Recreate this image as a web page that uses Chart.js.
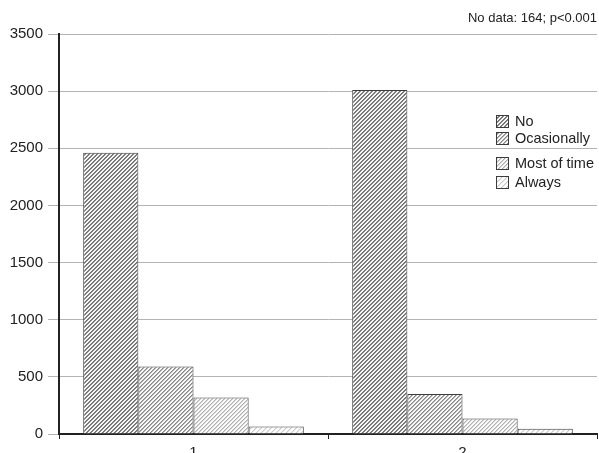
<!DOCTYPE html>
<html>
<head>
<meta charset="utf-8">
<script src="https://cdn.jsdelivr.net/npm/chart.js@4/dist/chart.umd.min.js"></script>
<style>
  html, body { margin: 0; padding: 0; background: #fff; }
  #wrap { width: 599px; height: 453px; position: relative; }
</style>
</head>
<body>
<div id="wrap"><canvas id="c" width="599" height="453"></canvas></div>
<script>
// Groups along the x axis
const categories = ['1', '2'];

// Response series
const seriesNames = ['No', 'Ocasionally', 'Most of time', 'Always'];
const seriesNo = [2460, 3010];
const seriesOcasionally = [590, 350];
const seriesMostOfTime = [320, 135];
const seriesAlways = [65, 45];

// Y axis ticks
const yTicks = [0, 500, 1000, 1500, 2000, 2500, 3000, 3500];

const note = 'No data: 164; p<0.001';

const FONT = '"Liberation Sans", Arial, Helvetica, sans-serif';

// Pixel-exact "/" hatch. shades[j] is the grey used on the diagonal
// x + y = j (mod period); 255 leaves the pixel white.
function hatch(shades) {
  const period = shades.length;
  const c = document.createElement('canvas');
  c.width = period; c.height = period;
  const g = c.getContext('2d');
  const img = g.createImageData(period, period);
  for (let y = 0; y < period; y++) {
    for (let x = 0; x < period; x++) {
      const k = (y * period + x) * 4;
      const v = shades[(x + y) % period];
      img.data[k] = v; img.data[k + 1] = v; img.data[k + 2] = v; img.data[k + 3] = 255;
    }
  }
  g.putImageData(img, 0, 0);
  return g.createPattern(c, 'repeat');
}

const ctx = document.getElementById('c').getContext('2d');
const fills = [
  hatch([255, 240, 110, 140]),
  hatch([255, 245, 135, 180]),
  hatch([255, 250, 175, 215]),
  hatch([255, 255, 250, 200, 235])
];
const seriesValues = [seriesNo, seriesOcasionally, seriesMostOfTime, seriesAlways];

const datasets = seriesNames.map((name, i) => ({
  label: name,
  data: seriesValues[i],
  backgroundColor: fills[i],
  borderColor: '#3c3c3c',
  borderWidth: 1,
  borderSkipped: 'bottom',
  categoryPercentage: 0.82,
  barPercentage: 1.0
}));

// Note above the plot and the in-plot legend
const extras = {
  id: 'extras',
  afterDraw(chart) {
    const g = chart.ctx;
    g.save();
    g.fillStyle = '#222';
    g.font = '13px ' + FONT;
    g.textAlign = 'right';
    g.textBaseline = 'middle';
    g.fillText(note, 597, 18);

    const rowsY = [121, 138, 163, 182];
    g.textAlign = 'left';
    g.font = '14.5px ' + FONT;
    chart.data.datasets.forEach((ds, i) => {
      const y = rowsY[i];
      g.fillStyle = ds.backgroundColor;
      g.fillRect(496, y - 6, 12, 12);
      g.strokeStyle = '#3c3c3c';
      g.lineWidth = 1;
      g.strokeRect(496.5, y - 5.5, 12, 12);
      g.fillStyle = '#222';
      g.fillText(ds.label, 515, y + 1);
    });
    g.restore();
  }
};

new Chart(ctx, {
  type: 'bar',
  data: { labels: categories, datasets },
  options: {
    responsive: false,
    animation: false,
    devicePixelRatio: 1,
    layout: { padding: { top: 34, right: 2, left: 0, bottom: 0 } },
    plugins: {
      legend: { display: false },
      tooltip: { enabled: false }
    },
    scales: {
      x: {
        offset: true,
        grid: {
          offset: true,
          drawOnChartArea: false,
          drawTicks: true,
          tickLength: 5,
          color: '#222',
          lineWidth: 1
        },
        border: { display: true, color: '#222', width: 2 },
        ticks: { color: '#222', font: { family: FONT, size: 15 }, padding: 5 },
        afterFit(scale) { scale.height = 19; }
      },
      y: {
        min: 0,
        max: 3500,
        afterBuildTicks(scale) { scale.ticks = yTicks.map(v => ({ value: v })); },
        grid: {
          color: '#b4b4b4',
          lineWidth: 1,
          tickLength: 11
        },
        border: { display: true, color: '#222', width: 2 },
        ticks: {
          color: '#222',
          font: { family: FONT, size: 15 },
          padding: 5,
          callback: v => String(v)
        },
        afterFit(scale) { scale.width = 59; }
      }
    }
  },
  plugins: [extras]
});
</script>
</body>
</html>
